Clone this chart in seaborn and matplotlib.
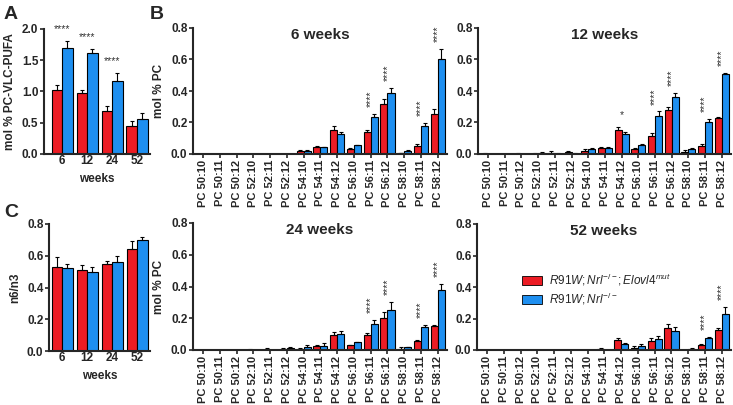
import numpy as np
import pandas as pd
import matplotlib
matplotlib.use('Agg')
import matplotlib.pyplot as plt
import seaborn as sns
from matplotlib.patches import Patch

# ---- data ----
weeks = ['6', '12', '24', '52']
lipids = ['PC 50:10', 'PC 50:11', 'PC 50:12', 'PC 52:10', 'PC 52:11', 'PC 52:12',
          'PC 54:10', 'PC 54:11', 'PC 54:12', 'PC 56:10', 'PC 56:11', 'PC 56:12',
          'PC 58:10', 'PC 58:11', 'PC 58:12']
genotypes = ['R91W;Nrl-/-;Elovl4mut', 'R91W;Nrl-/-']

# panel A: mol % PC-VLC-PUFA
vlc_mut = [1.02, 0.97, 0.69, 0.45]
vlc_mut_err = [0.08, 0.06, 0.08, 0.07]
vlc_ctl = [1.69, 1.61, 1.17, 0.56]
vlc_ctl_err = [0.12, 0.07, 0.13, 0.10]
vlc_stars = ['****', '****', '****', '']

# panel C: n6/n3
n6n3_mut = [0.53, 0.51, 0.55, 0.64]
n6n3_mut_err = [0.06, 0.03, 0.02, 0.05]
n6n3_ctl = [0.52, 0.50, 0.56, 0.70]
n6n3_ctl_err = [0.03, 0.03, 0.04, 0.02]

# panel B: mol % PC per species
w6_mut = [0, 0, 0, 0, 0, 0, 0.020, 0.045, 0.155, 0.033, 0.140, 0.315, 0.005, 0.050, 0.255]
w6_mut_err = [0, 0, 0, 0, 0, 0, 0.004, 0.005, 0.025, 0.005, 0.015, 0.035, 0.003, 0.012, 0.028]
w6_ctl = [0, 0, 0, 0, 0, 0, 0.022, 0.043, 0.130, 0.055, 0.235, 0.385, 0.022, 0.178, 0.605]
w6_ctl_err = [0, 0, 0, 0, 0, 0, 0.003, 0.003, 0.012, 0.005, 0.018, 0.035, 0.004, 0.018, 0.060]
w6_stars = ['', '', '', '', '', '', '', '', '', '', '****', '****', '', '****', '****']

w12_mut = [0.002, 0, 0.002, 0.003, 0.008, 0.010, 0.018, 0.035, 0.155, 0.030, 0.115, 0.280, 0.015, 0.050, 0.230]
w12_mut_err = [0.003, 0, 0.005, 0.005, 0.010, 0.012, 0.015, 0.010, 0.018, 0.008, 0.020, 0.018, 0.008, 0.012, 0.008]
w12_ctl = [0, 0, 0, 0.005, 0.003, 0.003, 0.030, 0.040, 0.125, 0.060, 0.240, 0.365, 0.030, 0.200, 0.505]
w12_ctl_err = [0, 0, 0, 0.010, 0.005, 0.005, 0.010, 0.005, 0.015, 0.005, 0.030, 0.025, 0.010, 0.020, 0.008]
w12_stars = ['', '', '', '', '', '', '', '', '*', '', '****', '****', '', '****', '****']

w24_mut = [0, 0, 0, 0.002, 0.003, 0.005, 0.005, 0.025, 0.095, 0.030, 0.095, 0.200, 0.008, 0.055, 0.150]
w24_mut_err = [0, 0, 0, 0.003, 0.008, 0.010, 0.010, 0.005, 0.020, 0.004, 0.015, 0.040, 0.008, 0.010, 0.008]
w24_ctl = [0, 0, 0, 0, 0, 0.010, 0.018, 0.023, 0.100, 0.048, 0.165, 0.255, 0.018, 0.148, 0.380]
w24_ctl_err = [0, 0, 0, 0, 0, 0.010, 0.015, 0.018, 0.022, 0.004, 0.022, 0.045, 0.004, 0.012, 0.035]
w24_stars = ['', '', '', '', '', '', '', '', '', '', '****', '****', '', '****', '****']

w52_mut = [0, 0, 0, 0, 0, 0, 0, 0.005, 0.065, 0.015, 0.055, 0.140, 0, 0.030, 0.130]
w52_mut_err = [0, 0, 0, 0, 0, 0, 0, 0.005, 0.012, 0.008, 0.020, 0.025, 0, 0.005, 0.012]
w52_ctl = [0, 0, 0, 0, 0, 0, 0, 0, 0.040, 0.025, 0.068, 0.118, 0.008, 0.078, 0.228]
w52_ctl_err = [0, 0, 0, 0, 0, 0, 0, 0, 0.004, 0.010, 0.018, 0.025, 0.004, 0.006, 0.045]
w52_stars = ['', '', '', '', '', '', '', '', '', '', '', '', '', '****', '****']

RED = '#ec1c24'
BLUE = '#1e8ff0'
W, H = 733, 405

sns.set_style("ticks")
plt.rcParams['font.family'] = ['Liberation Sans', 'DejaVu Sans']
plt.rcParams['font.weight'] = 'bold'
plt.rcParams['axes.linewidth'] = 1.5
plt.rcParams['mathtext.fontset'] = 'custom'
plt.rcParams['mathtext.it'] = 'Liberation Sans:italic:normal'
plt.rcParams['mathtext.rm'] = 'Liberation Sans:normal'

fig = plt.figure(figsize=(W / 100, H / 100), dpi=100)


def box(l, t, r, b):
    return [l / W, 1 - b / H, (r - l) / W, (b - t) / H]


def bars(ax, cats, mut, mut_err, ctl, ctl_err, stars, star_rot, star_size, half=0.21):
    df = pd.DataFrame({'cat': cats * 2,
                       'val': list(mut) + list(ctl),
                       'geno': [genotypes[0]] * len(cats) + [genotypes[1]] * len(cats)})
    sns.barplot(data=df, x='cat', y='val', hue='geno', palette=[RED, BLUE],
                saturation=1, errorbar=None, width=half * 4, edgecolor='black',
                linewidth=0.8, ax=ax, legend=False)
    x = np.arange(len(cats))
    ax.errorbar(x - half, mut, yerr=[np.zeros(len(mut)), mut_err], fmt='none',
                ecolor='black', elinewidth=0.8, capsize=1.5, capthick=0.8)
    ax.errorbar(x + half, ctl, yerr=[np.zeros(len(ctl)), ctl_err], fmt='none',
                ecolor='black', elinewidth=0.8, capsize=1.5, capthick=0.8)
    tops = np.maximum(np.array(mut) + np.array(mut_err), np.array(ctl) + np.array(ctl_err))
    for i, s in enumerate(stars):
        if s:
            rot = star_rot if len(s) > 1 else 0
            ax.annotate(s, (x[i], tops[i]), xytext=(0, 5), textcoords='offset points',
                        ha='center', va='bottom', rotation=rot, fontsize=star_size,
                        fontweight='normal', color='#333333')
    sns.despine(ax=ax)
    ax.set_xlabel('')
    ax.set_ylabel('')
    ax.tick_params(axis='both', width=1.2, length=3, labelsize=8.5, pad=1)


# panel A
axA = fig.add_axes(box(44, 29, 150, 154))
bars(axA, weeks, vlc_mut, vlc_mut_err, vlc_ctl, vlc_ctl_err, vlc_stars, 0, 7.5)
axA.set_ylim(0, 2.0)
axA.set_yticks([0, 0.5, 1.0, 1.5, 2.0])
axA.set_xlim(-0.72, 3.52)
axA.set_ylabel('mol % PC-VLC-PUFA', fontsize=8.5, fontweight='bold')
axA.set_xlabel('weeks', fontsize=8.5, fontweight='bold', labelpad=4)
axA.tick_params(axis='x', length=0)

# panel C
axC = fig.add_axes(box(49, 224, 150, 351))
bars(axC, weeks, n6n3_mut, n6n3_mut_err, n6n3_ctl, n6n3_ctl_err, ['', '', '', ''], 0, 7.5)
axC.set_ylim(0, 0.8)
axC.set_yticks([0, 0.2, 0.4, 0.6, 0.8])
axC.set_xlim(-0.52, 3.52)
axC.set_ylabel('n6/n3', fontsize=8.5, fontweight='bold')
axC.set_xlabel('weeks', fontsize=8.5, fontweight='bold', labelpad=4)
axC.tick_params(axis='x', length=0)

# panel B
panels = [
    (box(193, 28, 447, 154), '6 weeks', w6_mut, w6_mut_err, w6_ctl, w6_ctl_err, w6_stars, True),
    (box(478, 28, 731, 154), '12 weeks', w12_mut, w12_mut_err, w12_ctl, w12_ctl_err, w12_stars, False),
    (box(193, 223, 447, 350), '24 weeks', w24_mut, w24_mut_err, w24_ctl, w24_ctl_err, w24_stars, True),
    (box(477, 224, 731, 350), '52 weeks', w52_mut, w52_mut_err, w52_ctl, w52_ctl_err, w52_stars, False),
]
axes_b = []
for rect, title, m, me, c, ce, st, ylab in panels:
    ax = fig.add_axes(rect)
    bars(ax, lipids, m, me, c, ce, st, 90, 7.5)
    ax.set_ylim(0, 0.8)
    ax.set_yticks([0, 0.2, 0.4, 0.6, 0.8])
    ax.set_xlim(-0.6, 14.55)
    ax.tick_params(axis='x', rotation=90, labelsize=8)
    ax.text(0.5, 1.0, title, transform=ax.transAxes, ha='center', va='top',
            fontsize=11, fontweight='bold')
    if ylab:
        ax.set_ylabel('mol % PC', fontsize=8.5, fontweight='bold')
    axes_b.append(ax)

handles = [Patch(facecolor=RED, edgecolor='black', linewidth=0.6),
           Patch(facecolor=BLUE, edgecolor='black', linewidth=0.6)]
labels = [r'$R91W;Nrl^{-/-};Elovl4^{mut}$', r'$R91W;Nrl^{-/-}$']
axes_b[3].legend(handles, labels, loc='upper left', bbox_to_anchor=(516 / W, 1 - 266 / H),
                 bbox_transform=fig.transFigure, frameon=False,
                 handlelength=1.7, handleheight=0.7, handletextpad=0.6, labelspacing=0.25,
                 borderpad=0, prop={'size': 8.5, 'weight': 'normal'})

for lab, x, y in [('A', 4, 6), ('B', 150, 6), ('C', 4, 204)]:
    fig.text(x / W, 1 - y / H, lab, ha='left', va='top', fontsize=14, fontweight='bold')

fig.savefig('out.png', dpi=100)
